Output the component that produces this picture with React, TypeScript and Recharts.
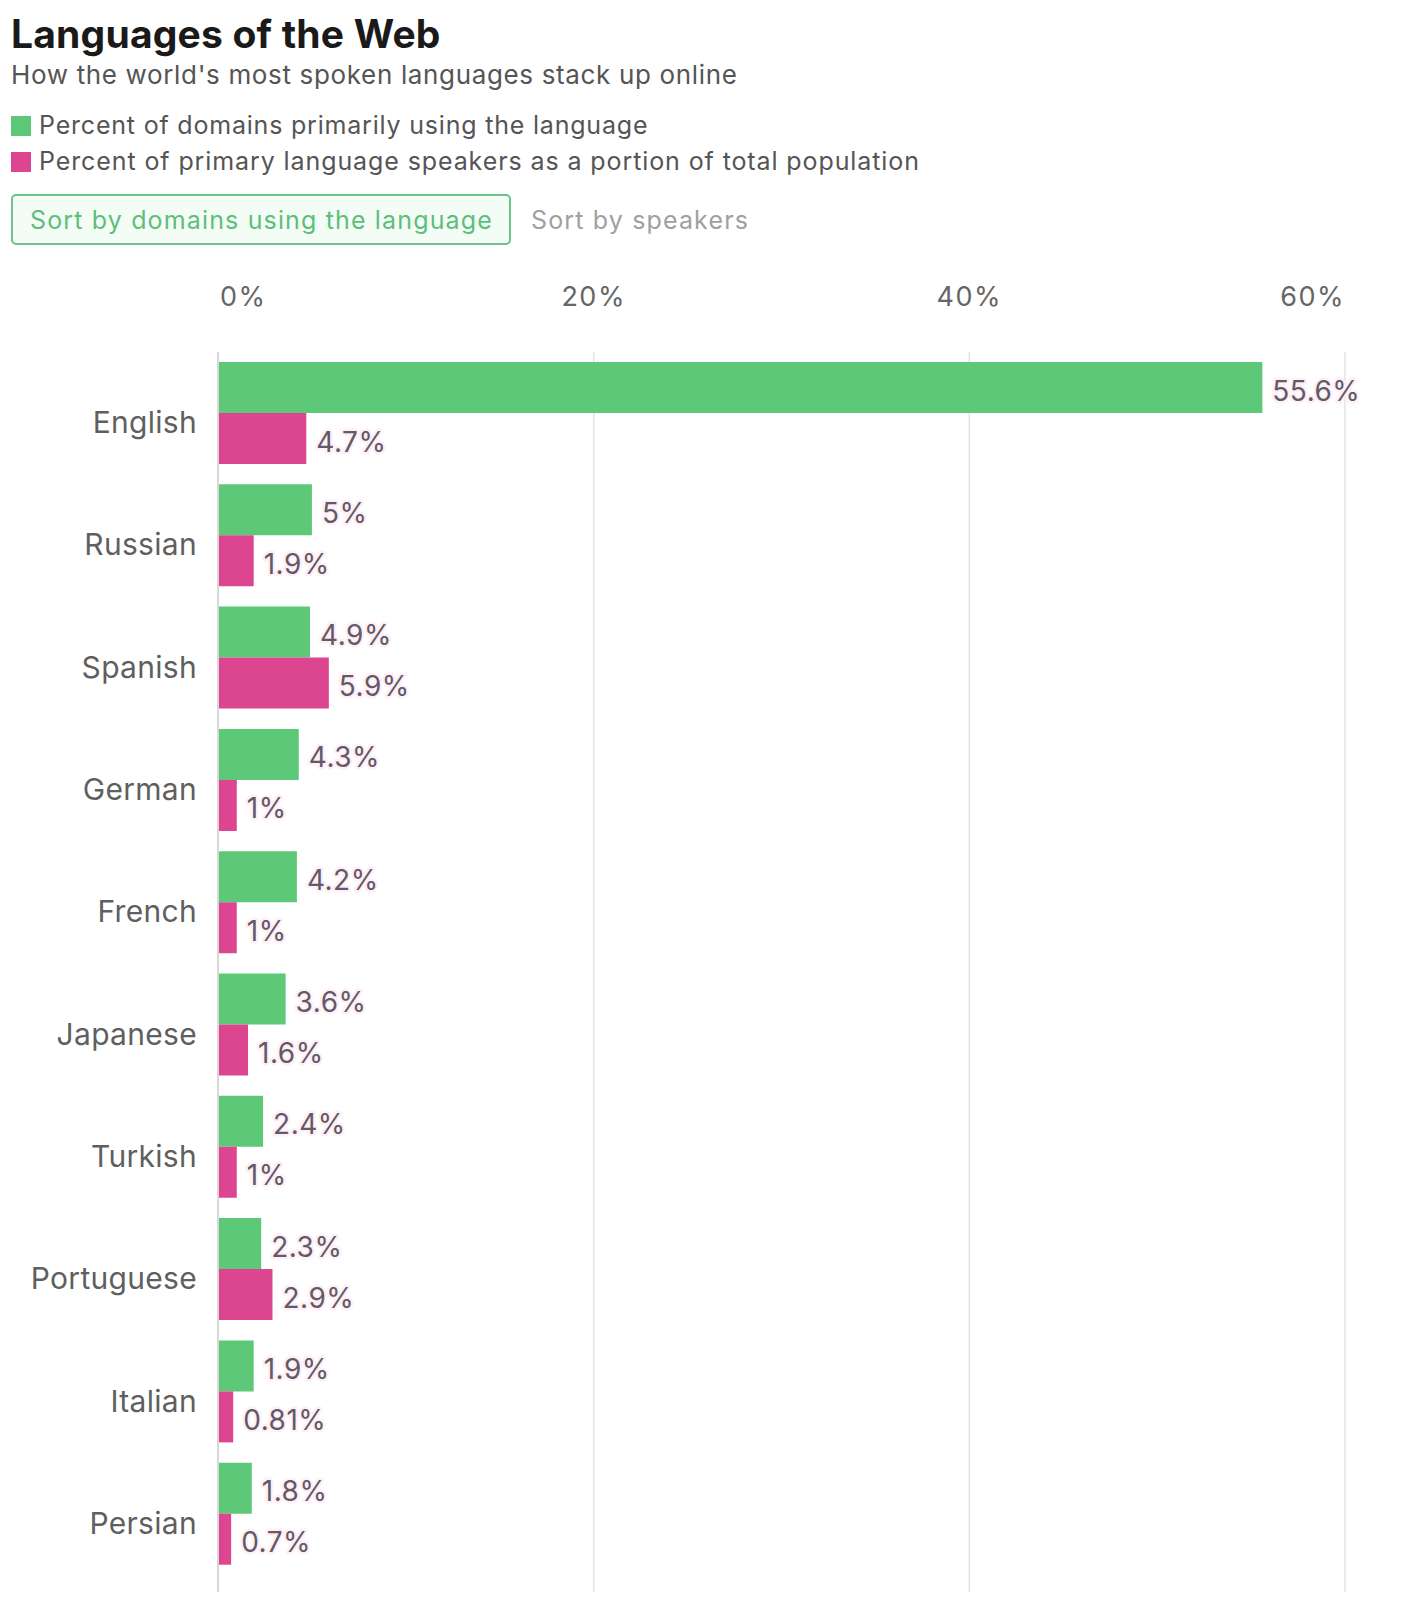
import React from 'react';
import { BarChart, Bar, XAxis, YAxis, CartesianGrid, LabelList, ReferenceLine } from 'recharts';

const languages = ['English', 'Russian', 'Spanish', 'German', 'French', 'Japanese', 'Turkish', 'Portuguese', 'Italian', 'Persian'];
const domainShare = [55.6, 5, 4.9, 4.3, 4.2, 3.6, 2.4, 2.3, 1.9, 1.8];
const speakerShare = [4.7, 1.9, 5.9, 1, 1, 1.6, 1, 2.9, 0.81, 0.7];
const xTicks = [0, 20, 40, 60];

const GREEN = '#5cc878';
const PINK = '#dc4590';
const FONT = 'Inter, "Noto Sans", sans-serif';

const rows = languages.map((language, i) => ({
  language,
  domains: domainShare[i],
  speakers: speakerShare[i],
}));

const XTick = (props: any) => {
  const { x, y, payload } = props;
  const v = payload.value;
  const anchor = v === xTicks[0] ? 'start' : v === xTicks[xTicks.length - 1] ? 'end' : 'middle';
  const dx = v === xTicks[0] ? 2 : 0;
  return (
    <text x={x + dx} y={y - 46} textAnchor={anchor} fontSize={27} fill="#666" letterSpacing={1.5} fontFamily={FONT}>
      {v}%
    </text>
  );
};

const YTick = (props: any) => {
  const { x, y, payload } = props;
  return (
    <text x={x - 21} y={y + 20} textAnchor="end" fontSize={30} fill="#5f5f5f" letterSpacing={0.3} fontFamily={FONT}>
      {payload.value}
    </text>
  );
};

const ValueLabel = (props: any) => {
  const { x, y, width, height, value } = props;
  return (
    <text
      x={x + width + 10}
      y={y + height / 2 + 13}
      fontSize={28}
      fill="#625a66"
      stroke="#fff0f7"
      strokeWidth={5}
      strokeLinejoin="round"
      paintOrder="stroke"
      letterSpacing={0.5}
      fontFamily={FONT}
    >
      {value}%
    </text>
  );
};

export default function App() {
  return (
    <div style={{ position: 'absolute', left: 0, top: 0, width: 1408, height: 1624, background: '#fff', fontFamily: FONT }}>
      <div style={{ position: 'absolute', left: 11, top: 14, fontSize: 39, lineHeight: '39px', fontWeight: 700, color: '#1a1a1a', letterSpacing: 0.2, whiteSpace: 'nowrap' }}>
        Languages of the Web
      </div>
      <div style={{ position: 'absolute', left: 11, top: 62, fontSize: 26, lineHeight: '26px', color: '#555', letterSpacing: 0.65, whiteSpace: 'nowrap' }}>
        How the world's most spoken languages stack up online
      </div>

      <div style={{ position: 'absolute', left: 11, top: 116, width: 20, height: 20, background: GREEN }} />
      <div style={{ position: 'absolute', left: 39, top: 113, fontSize: 25, lineHeight: '25px', color: '#555', letterSpacing: 0.8, whiteSpace: 'nowrap' }}>
        Percent of domains primarily using the language
      </div>
      <div style={{ position: 'absolute', left: 11, top: 152, width: 20, height: 20, background: PINK }} />
      <div style={{ position: 'absolute', left: 39, top: 149, fontSize: 25, lineHeight: '25px', color: '#555', letterSpacing: 0.9, whiteSpace: 'nowrap' }}>
        Percent of primary language speakers as a portion of total population
      </div>

      <div style={{ position: 'absolute', left: 11, top: 194, width: 500, height: 51, boxSizing: 'border-box', border: '2px solid #6cc488', borderRadius: 5, background: '#f4fcf6' }} />
      <div style={{ position: 'absolute', left: 30, top: 208, fontSize: 25, lineHeight: '25px', color: '#5cbf7a', letterSpacing: 1.15, whiteSpace: 'nowrap' }}>
        Sort by domains using the language
      </div>
      <div style={{ position: 'absolute', left: 531, top: 208, fontSize: 25, lineHeight: '25px', color: '#a0a0a0', letterSpacing: 1.15, whiteSpace: 'nowrap' }}>
        Sort by speakers
      </div>

      <div style={{ position: 'absolute', left: 0, top: 260 }}>
        <BarChart
          width={1408}
          height={1340}
          data={rows}
          layout="vertical"
          margin={{ top: 0, right: 63, bottom: 8, left: 0 }}
          barGap={0}
        >
          <CartesianGrid horizontal={false} stroke="#e3e3e3" strokeWidth={1.5} />
          <XAxis
            type="number"
            orientation="top"
            domain={[0, 60]}
            ticks={xTicks}
            axisLine={false}
            tickLine={false}
            tickSize={0}
            tickMargin={0}
            height={92}
            tick={<XTick />}
            interval={0}
          />
          <YAxis
            type="category"
            dataKey="language"
            width={218}
            axisLine={false}
            tickLine={false}
            tickSize={0}
            tickMargin={0}
            padding={{ top: 0, bottom: 17 }}
            tick={<YTick />}
            interval={0}
          />
          <ReferenceLine x={0} stroke="#d8d8d8" strokeWidth={2} />
          <Bar dataKey="domains" fill={GREEN} barSize={51} isAnimationActive={false}>
            <LabelList dataKey="domains" content={<ValueLabel />} />
          </Bar>
          <Bar dataKey="speakers" fill={PINK} barSize={51} isAnimationActive={false}>
            <LabelList dataKey="speakers" content={<ValueLabel />} />
          </Bar>
        </BarChart>
      </div>
    </div>
  );
}
